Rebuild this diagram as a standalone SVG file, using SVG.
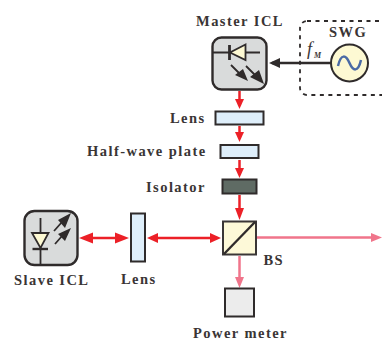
<svg xmlns="http://www.w3.org/2000/svg" width="382" height="340" viewBox="0 0 382 340">
<style>
text{font-family:"Liberation Serif","Times New Roman",serif;font-weight:bold;font-size:14.500px;fill:#3a3535;letter-spacing:1.450px}
.box{stroke:#2f2b2b;stroke-width:2}
.icl{fill:#d9dbdb;stroke:#2f2b2b;stroke-width:2.400}
.k{stroke:#2f2b2b;stroke-width:1.800;fill:none}
.kf{fill:#2f2b2b;stroke:none}
.red{stroke:#ec2027;stroke-width:2.500;fill:none}
.rf{fill:#ec2027}
.pink{stroke:#f0758b;stroke-width:2.500;fill:none}
.pf{fill:#f0758b}
</style>
<g id="connectors">
<path class="red" d="M239.500 91V101"/><path class="rf" d="M235 99L244 99L239.500 109Z"/>
<path class="red" d="M239.500 126V134"/><path class="rf" d="M235 132L244 132L239.500 142Z"/>
<path class="red" d="M239.500 160V170"/><path class="rf" d="M235 168L244 168L239.500 178Z"/>
<path class="red" d="M239.500 195V212"/><path class="rf" d="M235 208L244 208L239.500 220Z"/>
<path class="red" d="M155 238H212"/><path class="rf" d="M147 238L158 233L158 243Z"/><path class="rf" d="M221 238L210 233L210 243Z"/>
<path class="red" d="M88 238H120"/><path class="rf" d="M79 238L93 232.500L93 243.500Z"/><path class="rf" d="M129 238L115 232.500L115 243.500Z"/>
<path class="pink" d="M257 237.500H372"/><path class="pf" d="M382 237.500L371 233L371 242Z"/>
<path class="pink" d="M239.500 256V280"/><path class="pf" d="M235 277L244 277L239.500 288Z"/>
<path d="M331 63H272" stroke="#2f2b2b" stroke-width="2.500" fill="none"/><path class="kf" d="M269 63L280 58L280 68Z"/>
</g>
<g id="swg">
<rect x="300" y="21" width="92" height="74" rx="7" fill="none" stroke="#2f2b2b" stroke-width="1.800" stroke-dasharray="4 4.500"/>
<text x="329" y="37" letter-spacing="1.500">SWG</text>
<text x="307" y="55" font-style="italic" style="font-size:18px;font-weight:normal;letter-spacing:0">f</text>
<text x="314" y="58" font-style="italic" style="font-size:8px;letter-spacing:0">M</text>
<circle cx="349.500" cy="63" r="18.500" fill="#fdf9d3" stroke="#2f2b2b" stroke-width="2"/>
<path d="M338 66C341 53 346 55 349.500 63S358 73 361 60" fill="none" stroke="#4a6aa5" stroke-width="2.500"/>
</g>
<g id="master-icl">
<text x="196" y="25.500">Master ICL</text>
<rect class="icl" x="212.500" y="37.500" width="54" height="52" rx="9"/>
<path class="k" d="M213 52.500H260"/>
<path d="M245.500 44.500L230 52.500L245.500 60Z" fill="#fdf9d3" stroke="#2f2b2b" stroke-width="1.800"/>
<path d="M229.500 45V60" stroke="#2f2b2b" stroke-width="2.800"/>
<path class="k" d="M231 65L242 76M246 66L256 76"/>
<path class="kf" d="M248 81L235 75L243 69ZM264 84L250 77L259 70Z"/>
</g>
<g id="lens-1">
<text x="170" y="122.500">Lens</text>
<rect class="box" x="215.500" y="111.500" width="48" height="13" fill="#deeefa"/>
</g>
<g id="half-wave-plate">
<text x="87" y="156">Half-wave plate</text>
<rect class="box" x="220.500" y="145" width="38" height="13" fill="#deeefa"/>
</g>
<g id="isolator">
<text x="146" y="192">Isolator</text>
<rect class="box" x="222.500" y="179.500" width="34" height="14" fill="#5f6b64"/>
</g>
<g id="bs">
<rect x="223" y="221.500" width="33" height="33" fill="#fdf9d8" stroke="#3a3636" stroke-width="2"/>
<path d="M224 254L255 222" stroke="#2f2b2b" stroke-width="2.400"/>
<text x="263.500" y="264.500" letter-spacing="1.500">BS</text>
</g>
<g id="power-meter">
<rect class="box" x="225" y="288.500" width="29" height="28" fill="#ececec" stroke-width="2.200"/>
<text x="193" y="338">Power meter</text>
</g>
<g id="lens-2">
<rect class="box" x="131" y="213.500" width="14" height="48" fill="#deeefa"/>
<text x="121" y="284">Lens</text>
</g>
<g id="slave-icl">
<rect class="icl" x="24.500" y="211" width="53" height="54" rx="10"/>
<path class="k" d="M40.500 218V265"/>
<path d="M32 233L48.500 233L40.500 248Z" fill="#fdf9d3" stroke="#2f2b2b" stroke-width="1.800"/>
<path d="M32.500 249H48" stroke="#2f2b2b" stroke-width="2.400"/>
<path class="k" d="M54 231L62 222M55 244L62 236"/>
<path class="kf" d="M71 213L65 228L58 220ZM71 228L65 241L58 234Z"/>
<text x="14" y="285">Slave ICL</text>
</g>
</svg>
